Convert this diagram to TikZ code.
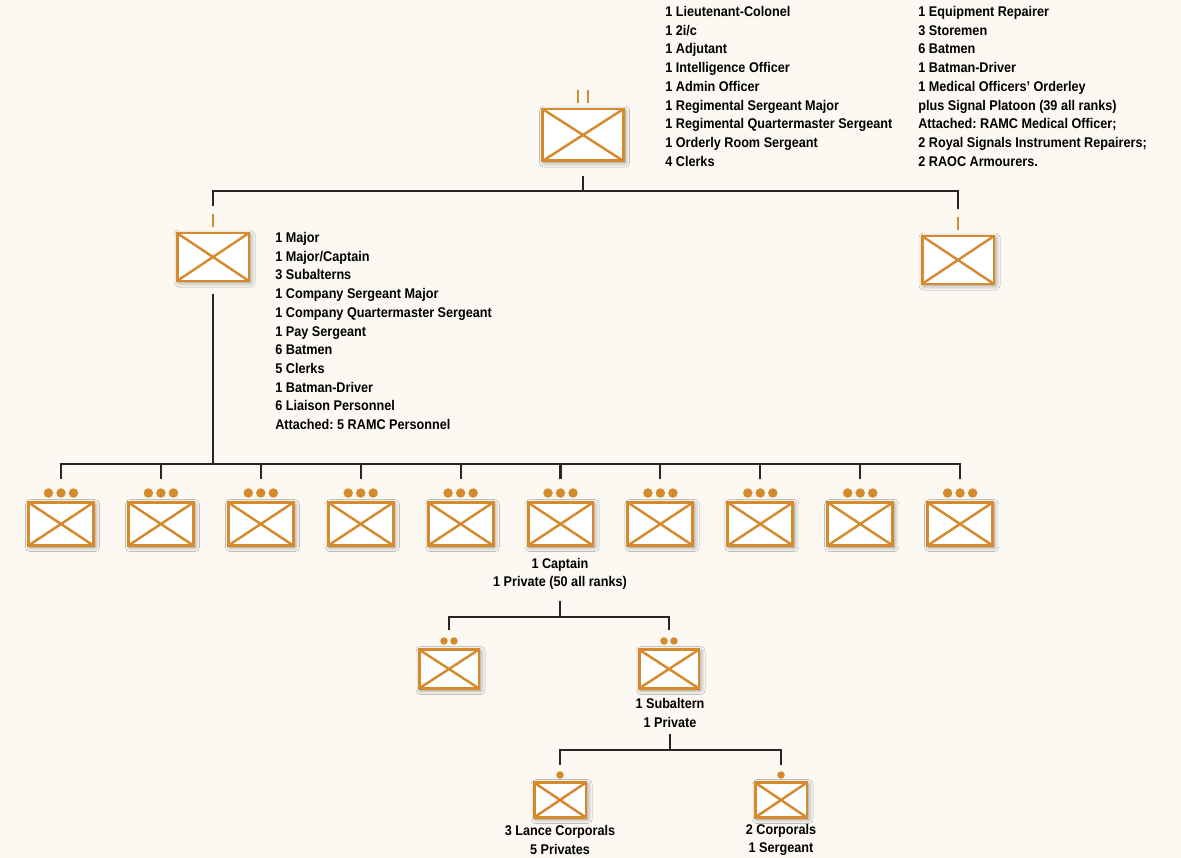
\documentclass[tikz,border=0pt]{standalone}
\usepackage{fontspec}
\setmainfont{Liberation Sans}[FakeStretch=0.9]
\usepackage{xcolor}
\usepackage{tikz}
\usetikzlibrary{shadows.blur}
\definecolor{unitorange}{HTML}{D68A2E}
\definecolor{paper}{HTML}{FBF9F2}
\frenchspacing

\begin{document}
\begin{tikzpicture}[x=0.02cm,y=-0.02cm,
  font=\fontsize{8}{10.65}\selectfont\bfseries,
  unit/.style={draw=unitorange,line width=1.7pt,fill=white,inner sep=0pt,
    blur shadow={shadow xshift=0.9pt,shadow yshift=-0.9pt,shadow blur radius=2.6pt,shadow opacity=45},
    path picture={\draw[unitorange,line width=1.4pt]
      (path picture bounding box.north west) -- (path picture bounding box.south east)
      (path picture bounding box.south west) -- (path picture bounding box.north east);}},
  hqunit/.style={unit,minimum width=1.62cm,minimum height=1.04cm},
  chqunit/.style={unit,minimum width=1.44cm,minimum height=0.96cm},
  coyunit/.style={unit,minimum width=1.30cm,minimum height=0.86cm},
  plunit/.style={unit,minimum width=1.20cm,minimum height=0.78cm},
  secunit/.style={unit,minimum width=1.04cm,minimum height=0.70cm},
  roster/.style={align=left,anchor=north west,inner sep=0pt},
  tally/.style={align=center,inner sep=0pt},
  link/.style={draw=black!85,line width=1.2pt},
  echelon/.style={draw=unitorange,line width=1.2pt},
  pip/.style={fill=unitorange}]
\fill[paper] (0,0) rectangle (1181,858);
\useasboundingbox (0,0) rectangle (1181,858);

% battalion headquarters
\node[hqunit] (hq) at (583,135) {};
\draw[echelon] ([xshift=-0.1cm,yshift=0.1cm]hq.north) -- ++(0,0.26cm)
  ([xshift=0.1cm,yshift=0.1cm]hq.north) -- ++(0,0.26cm);
\node[roster] (hqlist) at (665,6) {1 Lieutenant-Colonel\\1 2i/c\\1 Adjutant\\1 Intelligence Officer\\1 Admin Officer\\1 Regimental Sergeant Major\\1 Regimental Quartermaster Sergeant\\1 Orderly Room Sergeant\\4 Clerks};
\node[roster] (hqextra) at (918,6) {1 Equipment Repairer\\3 Storemen\\6 Batmen\\1 Batman-Driver\\1 Medical Officers' Orderley\\plus Signal Platoon (39 all ranks)\\Attached: RAMC Medical Officer;\\2 Royal Signals Instrument Repairers;\\2 RAOC Armourers.};

% company headquarters
\node[chqunit] (chq) at (213,257) {};
\draw[echelon] ([yshift=0.1cm]chq.north) -- ++(0,0.26cm);
\node[chqunit] (rhq) at (958,260) {};
\draw[echelon] ([yshift=0.1cm]rhq.north) -- ++(0,0.26cm);
\node[roster] (chqlist) at (275,232) {1 Major\\1 Major/Captain\\3 Subalterns\\1 Company Sergeant Major\\1 Company Quartermaster Sergeant\\1 Pay Sergeant\\6 Batmen\\5 Clerks\\1 Batman-Driver\\6 Liaison Personnel\\Attached: 5 RAMC Personnel};

\coordinate (hqbar) at (0,191);
\draw[link] ([yshift=-0.28cm]hq.south) -- (hq.south |- hqbar);
\draw[link] ([yshift=0.52cm]chq.north) |- (hq.south |- hqbar) -| ([yshift=0.52cm]rhq.north);

% companies
\foreach \i [evaluate=\i as \x using 61+99.9*(\i-1)] in {1,...,10}{
  \node[coyunit] (c\i) at (\x,524) {};
  \fill[pip] ([yshift=0.16cm]c\i.north) circle (0.095cm)
    ([xshift=-0.25cm,yshift=0.16cm]c\i.north) circle (0.095cm)
    ([xshift=0.25cm,yshift=0.16cm]c\i.north) circle (0.095cm);
}
\coordinate (coybar) at (0,464);
\draw[link] ([yshift=-0.24cm]chq.south) -- (chq.south |- coybar);
\draw[link] ([yshift=0.44cm]c1.north) |- (c10.north |- coybar) -- ([yshift=0.44cm]c10.north);
\foreach \i in {2,...,9}
  \draw[link] ([yshift=0.44cm]c\i.north) -- (c\i.north |- coybar);
\node[tally] (cpt) at (560,574) {1 Captain\\1 Private (50 all ranks)};

% platoons
\node[plunit] (p1) at (449,669) {};
\node[plunit] (p2) at (669,669) {};
\fill[pip] ([xshift=-0.1cm,yshift=0.14cm]p1.north) circle (0.075cm)
  ([xshift=0.1cm,yshift=0.14cm]p1.north) circle (0.075cm)
  ([xshift=-0.1cm,yshift=0.14cm]p2.north) circle (0.075cm)
  ([xshift=0.1cm,yshift=0.14cm]p2.north) circle (0.075cm);
\coordinate (plbar) at (0,617);
\draw[link] ([yshift=-0.22cm]cpt.south) -- (cpt.south |- plbar);
\draw[link] ([yshift=0.36cm]p1.north) |- (cpt.south |- plbar) -| ([yshift=0.36cm]p2.north);
\node[tally] (sub) at (670,713) {1 Subaltern\\1 Private};

% sections
\node[secunit] (s1) at (560,800) {};
\node[secunit] (s2) at (781,800) {};
\fill[pip] ([yshift=0.12cm]s1.north) circle (0.075cm)
  ([yshift=0.12cm]s2.north) circle (0.075cm);
\coordinate (secbar) at (0,750);
\draw[link] ([yshift=-0.12cm]sub.south) -- (sub.south |- secbar);
\draw[link] ([yshift=0.32cm]s1.north) |- (sub.south |- secbar) -| ([yshift=0.32cm]s2.north);
\node[tally] (s1list) at (560,840) {3 Lance Corporals\\5 Privates};
\node[tally] (s2list) at (781,840) {2 Corporals\\1 Sergeant};
\end{tikzpicture}
\end{document}
